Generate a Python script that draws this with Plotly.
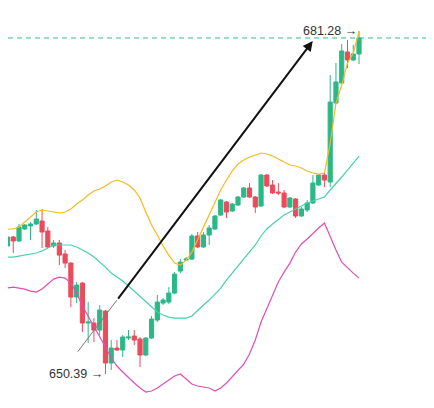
import numpy as np
from plotly import graph_objs as go

# candle data (one bar per period)
opens = [661.56, 661.92, 662.73, 662.37, 663.45, 663.72, 663.90, 664.17, 663.27, 661.92,
  662.19, 661.20, 660.38, 657.32, 658.58, 654.98, 654.98, 654.35, 656.06, 651.38,
  652.73, 652.55, 653.63, 653.81, 653.54, 652.10, 653.63, 655.25, 656.78, 656.87,
  657.68, 659.66, 660.65, 660.74, 662.82, 661.83, 662.91, 663.45, 664.71, 665.88,
  665.07, 665.61, 666.33, 667.14, 666.33, 665.52, 668.31, 667.41, 666.78, 666.69,
  665.43, 666.15, 664.62, 665.16, 665.79, 667.41, 668.31, 667.68, 674.79, 676.60,
  679.39, 678.67, 679.21]

highs = [662.28, 663.00, 662.82, 663.90, 663.90, 664.08, 665.16, 665.25, 663.63, 662.46,
  662.46, 661.56, 660.47, 658.67, 658.67, 656.87, 655.43, 656.60, 656.15, 653.45,
  653.45, 653.90, 654.35, 654.35, 653.72, 653.72, 655.61, 657.50, 657.23, 658.22,
  659.57, 660.74, 660.92, 663.00, 663.18, 663.18, 663.81, 664.71, 666.15, 665.97,
  665.79, 666.42, 667.23, 667.59, 666.42, 668.40, 668.40, 667.86, 667.59, 666.96,
  666.33, 666.24, 665.43, 666.06, 668.31, 668.40, 668.49, 677.32, 678.40, 680.11,
  680.47, 680.02, 681.28]

lows = [660.74, 661.83, 661.29, 662.28, 663.36, 662.46, 663.81, 661.74, 661.74, 661.74,
  660.20, 659.93, 656.42, 656.78, 654.17, 653.18, 653.27, 653.90, 650.39, 650.75,
  652.46, 651.92, 653.45, 653.00, 651.02, 652.01, 653.54, 655.07, 656.60, 656.69,
  657.59, 659.48, 660.56, 660.65, 661.74, 661.74, 662.01, 663.36, 664.62, 664.44,
  664.98, 665.52, 666.24, 666.24, 664.89, 665.43, 667.23, 666.60, 666.51, 665.34,
  665.34, 664.44, 664.53, 664.98, 665.70, 667.32, 667.23, 667.23, 674.70, 676.51,
  677.95, 678.58, 678.31]

closes = [662.10, 662.73, 662.37, 663.63, 663.81, 663.90, 664.35, 663.18, 661.83, 662.19,
  661.10, 660.38, 657.32, 658.40, 654.98, 655.07, 654.35, 656.15, 651.38, 652.73,
  652.55, 653.72, 653.72, 653.45, 652.10, 653.63, 655.34, 656.87, 657.05, 657.68,
  659.39, 660.47, 660.74, 662.82, 661.83, 662.91, 663.54, 664.62, 666.06, 664.98,
  665.70, 666.33, 667.14, 666.33, 665.43, 668.31, 667.32, 666.69, 666.69, 665.43,
  666.24, 664.62, 665.25, 665.79, 667.59, 668.31, 667.86, 674.88, 676.69, 679.48,
  678.67, 679.21, 680.65]

# bollinger bands
upper = [663.54, 663.45, 663.45, 663.63, 664.08, 664.53, 664.98, 665.16, 665.07, 664.98,
  664.89, 664.98, 665.25, 665.70, 666.06, 666.51, 666.87, 667.05, 667.32, 667.68,
  667.86, 667.68, 667.41, 666.96, 666.24, 664.98, 663.81, 662.91, 661.92, 661.10,
  660.38, 660.20, 660.65, 661.37, 662.46, 663.63, 664.71, 665.88, 666.96, 667.86,
  668.67, 669.30, 669.66, 669.93, 670.11, 670.29, 670.20, 670.02, 669.75, 669.48,
  669.21, 669.12, 668.94, 668.67, 668.49, 668.40, 668.49, 671.19, 674.79, 676.41,
  678.40, 679.30, 681.19]

middle = [660.83, 660.92, 660.92, 661.01, 661.10, 661.20, 661.29, 661.47, 661.74, 662.01,
  662.01, 662.01, 662.01, 661.83, 661.56, 661.29, 660.92, 660.47, 660.02, 659.48,
  659.12, 658.76, 658.31, 657.86, 657.32, 656.87, 656.42, 655.97, 655.70, 655.52,
  655.43, 655.43, 655.43, 655.61, 656.15, 656.60, 657.05, 657.59, 658.13, 658.85,
  659.48, 660.11, 660.74, 661.37, 662.01, 662.82, 663.45, 663.90, 664.35, 664.71,
  664.98, 665.25, 665.52, 665.79, 665.97, 666.15, 666.33, 666.96, 667.50, 668.13,
  668.76, 669.39, 670.02]

lower = [658.13, 658.13, 658.22, 658.13, 658.04, 657.86, 657.77, 658.04, 658.49, 658.94,
  659.12, 659.03, 658.58, 657.68, 656.51, 655.61, 654.71, 653.81, 652.82, 651.83,
  651.11, 650.57, 650.03, 649.58, 649.13, 648.77, 648.86, 649.13, 649.49, 649.85,
  650.21, 650.39, 649.94, 649.49, 649.31, 649.22, 649.13, 648.86, 649.13, 649.58,
  650.12, 650.66, 651.29, 652.19, 653.45, 655.07, 656.24, 657.50, 658.67, 659.57,
  660.38, 661.37, 662.10, 662.55, 663.09, 663.54, 663.99, 662.73, 661.56, 660.47,
  659.93, 659.48, 659.03]

x = list(range(len(closes)))

GREEN = '#2bb887'
RED = '#eb4b5a'

candles = go.Candlestick(
  x = x, open = opens, high = highs, low = lows, close = closes,
  increasing = {'line': {'color': GREEN, 'width': 1}, 'fillcolor': GREEN},
  decreasing = {'line': {'color': RED, 'width': 1}, 'fillcolor': RED},
  whiskerwidth = 0,
  hoverinfo = 'skip',
)

def band(values, color):
  return go.Scatter(x = x, y = values, mode = 'lines',
    line = {'color': color, 'width': 1.2}, hoverinfo = 'skip')

fig = go.Figure(data = [
  candles,
  band(upper, '#f5b921'),
  band(middle, '#45d0ad'),
  band(lower, '#dd4fb7'),
])

lo_i = int(np.argmin(lows))
hi_i = int(np.argmax(highs))
label_font = {'family': 'Liberation Sans, Arial, sans-serif', 'size': 12.5, 'color': '#333'}

# last price line
fig.add_shape(type = 'line', xref = 'paper', x0 = 0, x1 = 1, y0 = closes[-1], y1 = closes[-1],
  line = {'color': '#3ab895', 'width': 1, 'dash': '5px,4px'})

# trend arrow low -> high
fig.add_shape(type = 'line', x0 = 13.2, y0 = 652.4, x1 = 20, y1 = 657.05,
  line = {'color': '#777', 'width': 1})
fig.add_annotation(x = 53.97, y = 680.38, ax = 20, ay = 657.05, axref = 'x', ayref = 'y',
  text = '', showarrow = True, arrowhead = 2, arrowsize = 1, arrowwidth = 2,
  arrowcolor = '#111', standoff = 0)

fig.add_annotation(x = lo_i, y = lows[lo_i], text = f'{lows[lo_i]:.2f} <b>→</b>',
  showarrow = False, xanchor = 'right', yanchor = 'middle', xshift = 0, font = label_font)
fig.add_annotation(x = hi_i, y = highs[hi_i], text = f'{highs[hi_i]:.2f} <b>→</b>',
  showarrow = False, xanchor = 'right', yanchor = 'middle', xshift = 0, font = label_font)

# ranges allow for the page's 8px body margin
fig.update_layout(
  width = 434, height = 408,
  margin = {'l': 0, 'r': 0, 't': 0, 'b': 0},
  paper_bgcolor = 'white', plot_bgcolor = 'white',
  showlegend = False,
  boxgap = 0.15, boxgroupgap = 0.15,
  xaxis = {'visible': False, 'range': [1.09, 76.40], 'rangeslider': {'visible': False}},
  yaxis = {'visible': False, 'range': [646.61, 683.35]},
)

fig.write_html("out.html")
